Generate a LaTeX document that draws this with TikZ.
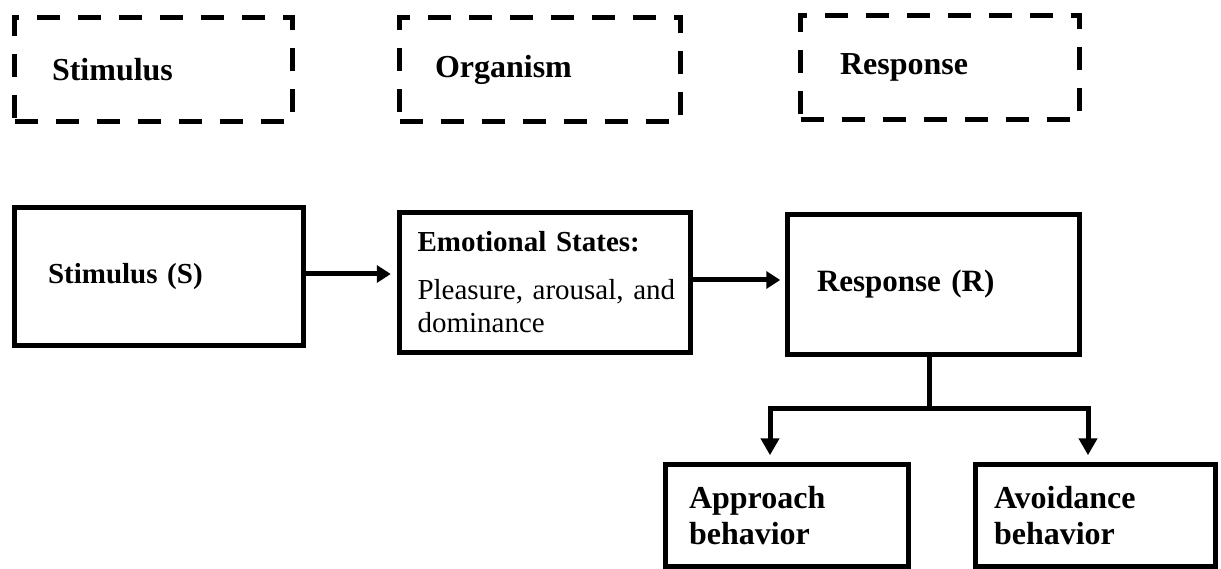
\documentclass[tikz,border=0pt]{standalone}
\usepackage{fontspec}
\setmainfont{Liberation Serif}
\usetikzlibrary{arrows.meta}
\begin{document}
\frenchspacing
\begin{tikzpicture}[x=1pt,y=-1pt,
  dbox/.style={draw, line width=5pt, dash pattern=on 23pt off 18pt, rectangle, anchor=center, align=left, inner ysep=0pt, font=\fontsize{32}{36}\selectfont\bfseries},
  sbox/.style={draw, line width=5.5pt, rectangle, anchor=center, align=left, inner ysep=0pt},
  bigbold/.style={font=\fontsize{32}{36}\selectfont\bfseries},
  respbold/.style={font=\fontsize{31}{36}\selectfont\bfseries},
  midbold/.style={font=\fontsize{29}{33}\selectfont\bfseries},
  midtext/.style={font=\fontsize{29}{33}\selectfont},
  conn/.style={line width=5pt},
  harr/.style={line width=5pt, -{Triangle[length=14pt,width=17pt]}},
  varr/.style={line width=5pt, -{Triangle[length=17pt,width=18pt]}},
]
\useasboundingbox (0,0) rectangle (1221,569);

% top dashed boxes
\node[dbox, minimum width=278pt, minimum height=104pt, inner xsep=37.5pt, text width=203pt] (d1) at (153.5,69.5) {Stimulus};
\node[dbox, minimum width=281pt, minimum height=104pt, inner xsep=35.5pt, text width=210pt] (d2) at (540,69.5) {Organism};
\node[dbox, minimum width=279pt, minimum height=104pt, inner xsep=39.5pt, text width=200pt] (d3) at (940,67.5) {Response};

% main row
\node[sbox, midbold, minimum width=289pt, minimum height=138pt, inner xsep=33.5pt, text width=222pt] (S) at (159,276.5) {Stimulus (S)};
\node[sbox, midtext, minimum width=291pt, minimum height=140pt, inner xsep=18pt, text width=255pt] (E) at (545,282.5) {\textbf{Emotional States:}\\[15pt]Pleasure,~arousal,~and\\dominance};
\node[sbox, respbold, minimum width=292pt, minimum height=140pt, inner xsep=29.5pt, text width=233pt] (R) at (933.5,284.5) {Response (R)};

% bottom boxes
\node[sbox, bigbold, minimum width=243pt, minimum height=102pt, inner xsep=23.5pt, text width=196pt] (A) at (787,515.5) {Approach\\behavior};
\node[sbox, bigbold, minimum width=240pt, minimum height=102pt, inner xsep=18.5pt, text width=203pt] (V) at (1095.5,515.5) {Avoidance\\behavior};

% connectors
\coordinate (y1) at (0,274);
\coordinate (y2) at (0,280);
\draw[harr, shorten >=6pt] (S.east |- y1) -- (E.west |- y1);
\draw[harr, shorten >=4.5pt] (E.east |- y2) -- (R.west |- y2);

\coordinate (jn) at (929,408);
\coordinate (bl) at (770,408);
\coordinate (brr) at (1088,408);
\draw[conn] (R.south -| jn) -- (jn);
\draw[varr, shorten >=6.5pt] (jn) -- (bl) -- (bl |- A.north);
\draw[varr, shorten >=6.5pt] (jn) -- (brr) -- (brr |- V.north);
\end{tikzpicture}
\end{document}
